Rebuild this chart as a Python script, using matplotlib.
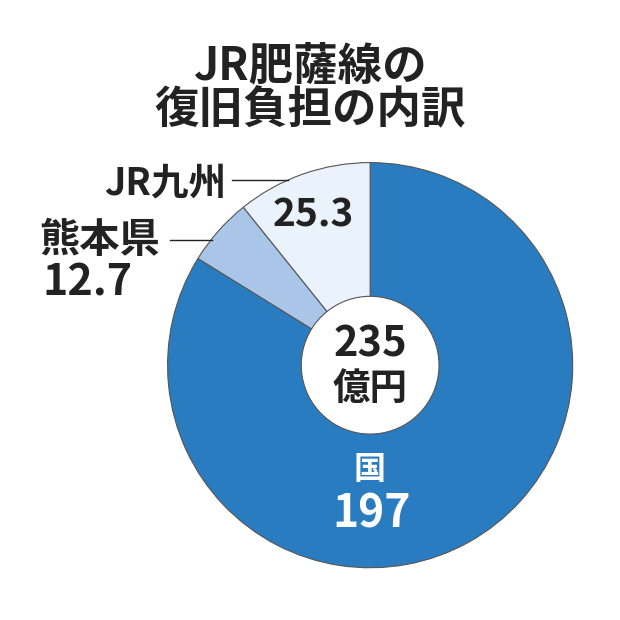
import matplotlib.pyplot as plt

plt.rcParams['font.family'] = 'Noto Sans CJK JP'

labels = ['国', '熊本県', 'JR九州']
values = [197, 12.7, 25.3]
colors = ['#2a7cc1', '#a9c6e8', '#eaf2fb']
total_label = '235'

fig = plt.figure(figsize=(6.2, 6.2), dpi=100)
ax = fig.add_axes([0.267, 0.081, 0.66, 0.66])
ax.pie(values, colors=colors, startangle=90, counterclock=False,
       wedgeprops=dict(width=0.66, edgecolor='#555555', linewidth=0.8))
ax.set_xlim(-1.01, 1.01)
ax.set_ylim(-1.01, 1.01)
ax.set_aspect('equal')

def px(x, y):
    return x / 620, 1 - y / 620

dark = '#222222'
fig.text(*px(310, 66), 'JR肥薩線の', ha='center', va='center', fontsize=32, fontweight='bold', color=dark)
fig.text(*px(310, 110), '復旧負担の内訳', ha='center', va='center', fontsize=32, fontweight='bold', color=dark)

fig.text(*px(370, 345), total_label, ha='center', va='center', fontsize=30, fontweight='bold', color=dark)
fig.text(*px(370, 388), '億円', ha='center', va='center', fontsize=27, fontweight='bold', color=dark)

fig.text(*px(370, 470), labels[0], ha='center', va='center', fontsize=23, fontweight='bold', color='white')
fig.text(*px(372, 515), f'{values[0]:g}', ha='center', va='center', fontsize=32, fontweight='bold', color='white')

fig.text(*px(100, 240), labels[1], ha='center', va='center', fontsize=29, fontweight='bold', color=dark)
fig.text(*px(88, 282), f'{values[1]:g}', ha='center', va='center', fontsize=31, fontweight='bold', color=dark)
fig.add_artist(plt.Line2D([170/620, 212/620], [1-240/620]*2, color=dark, lw=1))

fig.text(*px(165, 183), labels[2], ha='center', va='center', fontsize=27, fontweight='bold', color=dark)
fig.add_artist(plt.Line2D([232/620, 288/620], [1-180/620]*2, color=dark, lw=1))
fig.text(*px(313, 215), f'{values[2]:g}', ha='center', va='center', fontsize=28, fontweight='bold', color=dark)

fig.savefig('out.png', dpi=100, facecolor='white')
